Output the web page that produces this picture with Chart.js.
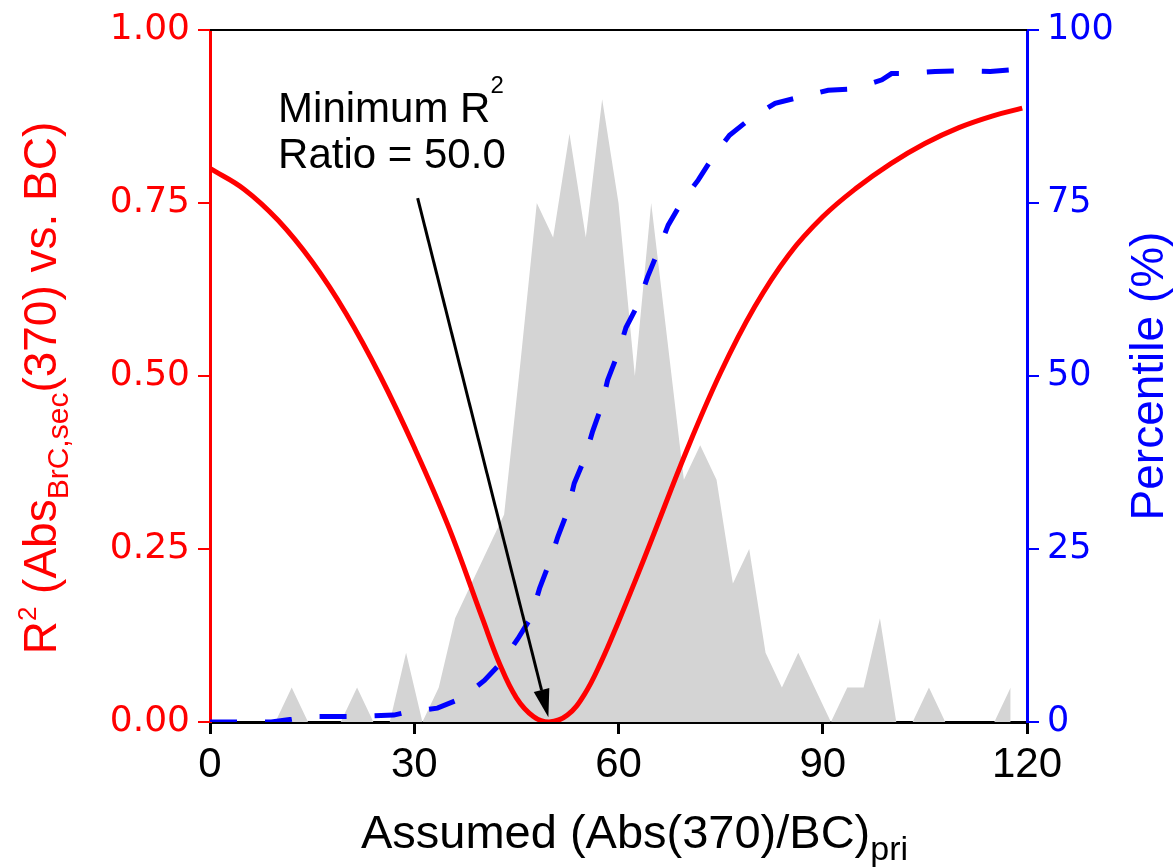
<!DOCTYPE html>
<html>
<head>
<meta charset="utf-8">
<script src="https://cdn.jsdelivr.net/npm/chart.js@4.4.0/dist/chart.umd.min.js"></script>
<style>
  html, body { margin: 0; padding: 0; background: #fff; }
  #wrap { width: 1176px; height: 867px; position: relative; }
</style>
</head>
<body>
<div id="wrap"><canvas id="chart"></canvas></div>
<script>
// Histogram of ratios (gray area)
const histX = [0, 2.4, 4.8, 7.2, 9.6, 12, 14.4, 16.8, 19.2, 21.6, 24, 26.4, 28.8, 31.2, 33.6, 36, 38.4, 40.8, 43.2, 45.6,
  48, 50.4, 52.8, 55.2, 57.6, 60, 62.4, 64.8, 67.2, 69.6, 72, 74.4, 76.8, 79.2, 81.6, 84, 86.4, 88.8, 91.2, 93.6,
  96, 98.4, 100.8, 103.2, 105.6, 108, 110.4, 112.8, 115.2, 117.6];
const histValues = [0, 0, 0, 0, 0, 0.05, 0, 0, 0, 0.05, 0, 0, 0.10, 0, 0.05, 0.15, 0.20, 0.25, 0.30, 0.52,
  0.75, 0.70, 0.85, 0.70, 0.90, 0.75, 0.50, 0.75, 0.55, 0.35, 0.40, 0.35, 0.20, 0.25, 0.10, 0.05, 0.10, 0.05, 0, 0.05,
  0.05, 0.15, 0, 0, 0.05, 0, 0, 0, 0, 0.05];

// R2 curve (red, left axis)
const r2X = [0, 5, 10, 15, 20, 25, 30, 35, 40, 42.5, 45, 47.5, 49.8, 52.5, 55, 57.5, 60, 62.5, 65, 70,
  75, 80, 85, 90, 95, 100, 105, 110, 115, 119.3];
const r2Values = [0.80, 0.77, 0.725, 0.665, 0.59, 0.50, 0.397, 0.283, 0.15, 0.085, 0.035, 0.008, 0, 0.01, 0.04, 0.088, 0.145, 0.205, 0.267, 0.392,
  0.505, 0.60, 0.675, 0.73, 0.772, 0.807, 0.836, 0.859, 0.876, 0.887];

// Percentile curve (blue dashed, right axis)
const pctX = [0, 9, 12, 14.4, 21, 24, 27, 29.2, 31.2, 33.4, 36.9, 40.3, 42.7, 45.2, 47.2, 48.4, 49.8, 51.1, 52.5, 53.5,
  55, 56.2, 57.5, 58.4, 59.9, 61.1, 62.9, 64.3, 65.8, 67.3, 69.2, 71.7, 73.9, 76.3, 79.5, 83, 86.6, 90.8, 94.5, 98.7,
  100.1, 102.2, 106.5, 110.3, 114.6, 118.5];
const pctValues = [0, 0, 0.4, 0.8, 0.8, 0.9, 1.0, 1.5, 1.7, 2.0, 3.4, 6, 8.5, 12, 15.2, 19.3, 22.9, 26.8, 30.4, 34.5,
  38, 42, 45.6, 49.4, 53.2, 57, 60.4, 64.4, 68, 71.8, 75, 78.3, 81.7, 84.8, 87.3, 89.4, 90.3, 91.3, 91.5, 92.8,
  93.7, 93.7, 94, 94.1, 94, 94.3];

const xTicks = [0, 30, 60, 90, 120];

const toPoints = (xs, ys) => xs.map((x, i) => ({ x: x, y: ys[i] }));

const FONT = "'Liberation Sans', Arial, sans-serif";
const TICK_FONT = "'DejaVu Sans', Verdana, sans-serif";

// draws a run of text pieces with different sizes / baseline shifts
function richWidth(ctx, parts) {
  let w = 0;
  parts.forEach(p => {
    ctx.font = p.size + 'px ' + FONT;
    w += ctx.measureText(p.text).width;
  });
  return w;
}
function drawRich(ctx, parts, x, y) {
  let cx = x;
  parts.forEach(p => {
    ctx.font = p.size + 'px ' + FONT;
    ctx.fillText(p.text, cx, y + (p.dy || 0));
    cx += ctx.measureText(p.text).width;
  });
}

const decorPlugin = {
  id: 'decor',
  afterDraw(chart) {
    const ctx = chart.ctx;
    const area = chart.chartArea;
    const xs = chart.scales.x;
    const ys = chart.scales.y;

    ctx.save();
    // top frame line
    ctx.strokeStyle = '#000';
    ctx.lineWidth = 2;
    ctx.beginPath();
    ctx.moveTo(area.left, area.top);
    ctx.lineTo(area.right, area.top);
    ctx.stroke();

    ctx.textAlign = 'left';
    ctx.textBaseline = 'alphabetic';

    // left axis title (rotated)
    const leftParts = [
      { text: 'R', size: 46 },
      { text: '2', size: 26, dy: -20 },
      { text: ' (Abs', size: 46 },
      { text: 'BrC,sec', size: 30, dy: 12 },
      { text: '(370) vs. BC)', size: 46 }
    ];
    ctx.fillStyle = '#ff0000';
    ctx.save();
    ctx.translate(56, (area.top + area.bottom) / 2 + 12);
    ctx.rotate(-Math.PI / 2);
    drawRich(ctx, leftParts, -richWidth(ctx, leftParts) / 2, 0);
    ctx.restore();

    // right axis title (rotated)
    const rightParts = [{ text: 'Percentile (%)', size: 46 }];
    ctx.fillStyle = '#0000ff';
    ctx.save();
    ctx.translate(1163, (area.top + area.bottom) / 2);
    ctx.rotate(-Math.PI / 2);
    drawRich(ctx, rightParts, -richWidth(ctx, rightParts) / 2, 0);
    ctx.restore();

    // x axis title
    const xParts = [
      { text: 'Assumed (Abs(370)/BC)', size: 47 },
      { text: 'pri', size: 34, dy: 12 }
    ];
    ctx.fillStyle = '#000';
    drawRich(ctx, xParts, (area.left + area.right) / 2 + 16 - richWidth(ctx, xParts) / 2, 848);

    // annotation text
    drawRich(ctx, [
      { text: 'Minimum R', size: 42 },
      { text: '2', size: 24, dy: -29 }
    ], xs.getPixelForValue(10), ys.getPixelForValue(0.8675));
    drawRich(ctx, [{ text: 'Ratio = 50.0', size: 42 }], xs.getPixelForValue(10), ys.getPixelForValue(0.80));

    // arrow to the minimum
    const x0 = xs.getPixelForValue(30.5), y0 = ys.getPixelForValue(0.757);
    const x1 = xs.getPixelForValue(49.7), y1 = ys.getPixelForValue(0.007);
    const ang = Math.atan2(y1 - y0, x1 - x0);
    const headLen = 28, headHalf = 8;
    const bx = x1 - headLen * Math.cos(ang), by = y1 - headLen * Math.sin(ang);
    ctx.strokeStyle = '#000';
    ctx.lineWidth = 3;
    ctx.beginPath();
    ctx.moveTo(x0, y0);
    ctx.lineTo(bx, by);
    ctx.stroke();
    ctx.beginPath();
    ctx.moveTo(x1, y1);
    ctx.lineTo(bx + headHalf * Math.sin(ang), by - headHalf * Math.cos(ang));
    ctx.lineTo(bx - headHalf * Math.sin(ang), by + headHalf * Math.cos(ang));
    ctx.closePath();
    ctx.fillStyle = '#000';
    ctx.fill();
    ctx.restore();
  }
};

new Chart(document.getElementById('chart').getContext('2d'), {
  type: 'line',
  data: {
    datasets: [
      {
        label: 'Percentile',
        data: toPoints(pctX, pctValues),
        yAxisID: 'y2',
        borderColor: '#0000ff',
        borderWidth: 5,
        borderDash: [27, 28],
        borderCapStyle: 'butt',
        pointRadius: 0,
        tension: 0,
        fill: false,
        order: 0
      },
      {
        label: 'R2',
        data: toPoints(r2X, r2Values),
        yAxisID: 'y',
        borderColor: '#ff0000',
        borderWidth: 5,
        pointRadius: 0,
        tension: 0.4,
        fill: false,
        order: 1
      },
      {
        label: 'Histogram',
        data: toPoints(histX, histValues),
        yAxisID: 'y',
        borderWidth: 0,
        borderColor: 'rgba(0,0,0,0)',
        backgroundColor: '#d4d4d4',
        pointRadius: 0,
        tension: 0,
        fill: 'origin',
        order: 2
      }
    ]
  },
  options: {
    responsive: true,
    maintainAspectRatio: false,
    animation: false,
    layout: { padding: { top: 30, left: 0, right: 0, bottom: 0 } },
    plugins: {
      legend: { display: false },
      tooltip: { enabled: false }
    },
    scales: {
      x: {
        type: 'linear',
        position: 'bottom',
        min: 0,
        max: 120,
        afterBuildTicks: s => { s.ticks = xTicks.map(v => ({ value: v })); },
        afterFit: s => { s.height = 145; },
        ticks: { color: '#000', font: { family: FONT, size: 42 }, padding: 6, maxRotation: 0 },
        grid: { drawOnChartArea: false, drawTicks: true, tickLength: 12, color: '#000', lineWidth: 3 },
        border: { color: '#000', width: 3 }
      },
      y: {
        position: 'left',
        min: 0,
        max: 1,
        afterFit: s => { s.width = 210; },
        ticks: { stepSize: 0.25, color: '#ff0000', font: { family: TICK_FONT, size: 36 }, padding: 8,
          callback: v => v.toFixed(2) },
        grid: { drawOnChartArea: false, drawTicks: true, tickLength: 12, color: '#ff0000', lineWidth: 2 },
        border: { color: '#ff0000', width: 3 }
      },
      y2: {
        position: 'right',
        min: 0,
        max: 100,
        afterFit: s => { s.width = 149; },
        ticks: { stepSize: 25, color: '#0000ff', font: { family: TICK_FONT, size: 35 }, padding: 8 },
        grid: { drawOnChartArea: false, drawTicks: true, tickLength: 12, color: '#0000ff', lineWidth: 2 },
        border: { color: '#0000ff', width: 3 }
      }
    }
  },
  plugins: [decorPlugin]
});
</script>
</body>
</html>
